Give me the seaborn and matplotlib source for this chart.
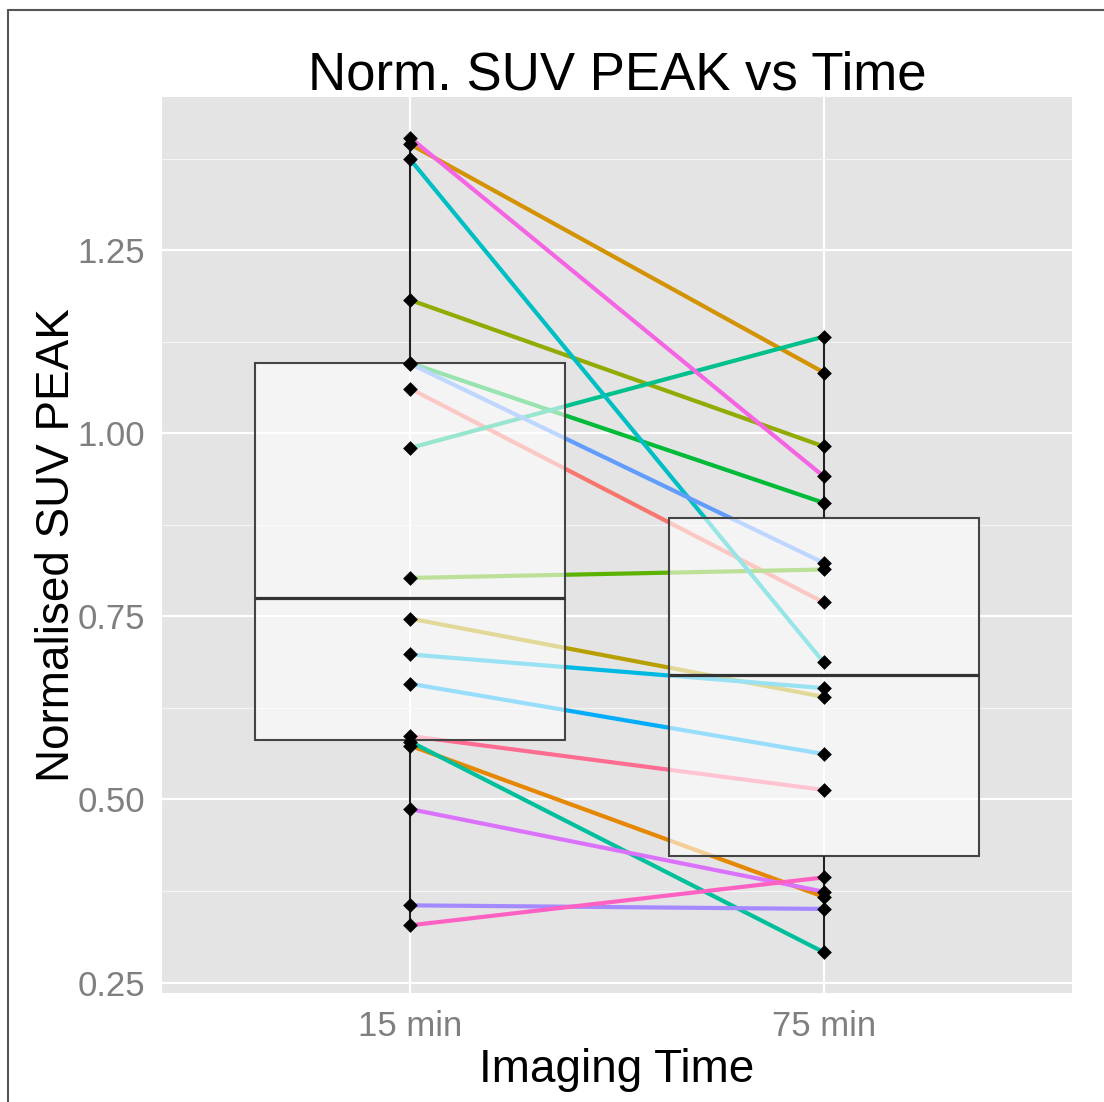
import numpy as np
import pandas as pd
import matplotlib
matplotlib.use("Agg")
import matplotlib.pyplot as plt
from matplotlib.lines import Line2D
from matplotlib.ticker import MultipleLocator
import seaborn as sns

# ---------------- data ----------------
times = ["15 min", "75 min"]
patients = [f"P{i:02d}" for i in range(1, 19)]
suv_15 = [1.061, 0.5735, 1.3946, 0.747, 1.182, 0.8025, 1.096, 0.980, 0.579,
          1.374, 0.698, 0.658, 1.095, 0.3554, 0.4868, 1.4036, 0.3281, 0.5867]
suv_75 = [0.769, 0.367, 1.083, 0.640, 0.982, 0.814, 0.905, 1.132, 0.2913,
          0.687, 0.652, 0.562, 0.823, 0.3505, 0.374, 0.941, 0.3935, 0.513]
y_ticks = [0.25, 0.50, 0.75, 1.00, 1.25]
y_tick_labels = ["0.25", "0.50", "0.75", "1.00", "1.25"]

# ---------------- style ----------------
line_colors = ["#F8766D", "#E58700", "#D39200", "#B79F00", "#93AA00", "#5BB300",
               "#00BA38", "#00C08B", "#00BF9C", "#00BFC4", "#00B9E3", "#00ADFA",
               "#619CFF", "#A58AFF", "#DB72FB", "#F564E3", "#FF61C3", "#FF6C91"]
palette = dict(zip(patients, line_colors))

df = pd.DataFrame({
    "patient": patients * 2,
    "time": [times[0]] * len(patients) + [times[1]] * len(patients),
    "value": suv_15 + suv_75,
})
df["pos"] = df["time"].map({t: i for i, t in enumerate(times)})

sns.set_theme(style="darkgrid")
plt.rcParams["font.family"] = ["Liberation Sans", "DejaVu Sans"]

W, H = 1104, 1102
fig = plt.figure(figsize=(W / 100, H / 100), dpi=100)
fig.patch.set_facecolor("white")
px_l, px_r, px_t, px_b = 162, 1072, 97, 993
ax = fig.add_axes([px_l / W, 1 - px_b / H, (px_r - px_l) / W, (px_b - px_t) / H])
ax.set_facecolor("#E4E4E4")

# boxplot
sns.boxplot(data=df, x="time", y="value", order=times, ax=ax, width=0.75,
            showcaps=False, fliersize=0, color="white", linecolor="#333333",
            linewidth=1.5,
            medianprops=dict(color="#333333", linewidth=2.3),
            whiskerprops=dict(color="#222222", linewidth=1.5))
for p in ax.patches:
    p.set_facecolor((1, 1, 1, 0.6))
    p.set_edgecolor("#444444")
    p.set_zorder(3)
for ln in ax.lines:
    ln.set_zorder(3.5)

# paired lines
sns.lineplot(data=df, x="pos", y="value", hue="patient", palette=palette,
             estimator=None, legend=False, ax=ax, linewidth=3.0, zorder=2)

# points
sns.stripplot(data=df, x="time", y="value", order=times, ax=ax, jitter=False,
              color="black", marker="D", size=7.5, linewidth=0, zorder=5)

# axes limits (ggplot-like expansion)
vals = np.array(suv_15 + suv_75)
rng = vals.max() - vals.min()
ax.set_ylim(vals.min() - 0.05 * rng, vals.max() + 0.05 * rng)
ax.set_xlim(-0.6, 1.6)

ax.set_yticks(y_ticks)
ax.set_yticklabels(y_tick_labels)
ax.set_xticks([0, 1])
ax.set_xticklabels(times)
ax.yaxis.set_minor_locator(MultipleLocator(0.125))
ax.grid(which="major", color="white", linewidth=1.6, zorder=0)
ax.grid(which="minor", axis="y", color="#F5F5F5", linewidth=0.8, zorder=0)
ax.set_axisbelow(True)
for s in ax.spines.values():
    s.set_visible(False)
ax.tick_params(axis="both", which="major", length=6, width=1.0, color="#8C8C8C",
               labelcolor="#7F7F7F", labelsize=25, pad=6)
ax.tick_params(axis="y", which="minor", length=0)
ax.set_xlabel("")
ax.set_ylabel("")

# titles
fig.text((px_l + px_r) / 2 / W, 1 - 90 / H, "Norm. SUV PEAK vs Time",
         ha="center", va="baseline", fontsize=38, color="black")
fig.text((px_l + px_r) / 2 / W, 1 - 1082 / H, "Imaging Time",
         ha="center", va="baseline", fontsize=33, color="black")
fig.text(57 / W, 1 - (px_t + px_b) / 2 / H, "Normalised SUV PEAK",
         ha="center", va="center", rotation=90, fontsize=33, color="black",
         rotation_mode="anchor")

# outer frame lines (top and left)
fig.add_artist(Line2D([8 / W, 1.0], [1 - 9.5 / H, 1 - 9.5 / H],
                      transform=fig.transFigure, color="#555555", linewidth=1.5))
fig.add_artist(Line2D([8 / W, 8 / W], [0, 1 - 9.5 / H],
                      transform=fig.transFigure, color="#555555", linewidth=1.5))

fig.savefig("out.png", dpi=100, facecolor="white")
